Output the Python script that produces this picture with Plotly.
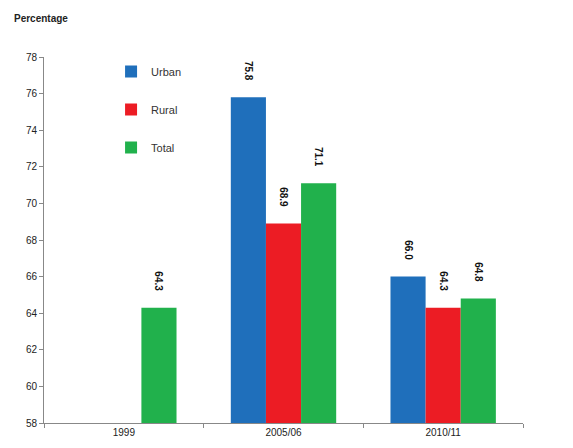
import plotly.graph_objects as go

categories = ["1999", "2005/06", "2010/11"]
urban = [None, 75.8, 66.0]
rural = [None, 68.9, 64.3]
total = [64.3, 71.1, 64.8]
urban_labels = ["", "75.8", "66.0"]
rural_labels = ["", "68.9", "64.3"]
total_labels = ["64.3", "71.1", "64.8"]
y_ticks = [58, 60, 62, 64, 66, 68, 70, 72, 74, 76, 78]

font_family = "Liberation Sans, Arial, sans-serif"
pad = "\u00a0" * 5

fig = go.Figure()
for name, vals, labels, color in [
    ("Urban", urban, urban_labels, "#1f6fbb"),
    ("Rural", rural, rural_labels, "#ec1c24"),
    ("Total", total, total_labels, "#21b14c"),
]:
    fig.add_trace(go.Bar(
        x=categories, y=vals, name=name, legendgroup=name,
        marker=dict(color=color, line=dict(width=0)),
        text=[f"<b>{t}</b>{pad}" if t else "" for t in labels],
        textposition="outside", textangle=90,
        textfont=dict(size=10, color="#111111", family=font_family),
        cliponaxis=False,
    ))

fig.update_layout(
    width=573, height=448,
    margin=dict(l=36, r=58, t=49, b=33),
    paper_bgcolor="white", plot_bgcolor="white",
    barmode="group", bargap=0.34, bargroupgap=0,
    font=dict(family=font_family, size=10, color="#222222"),
    showlegend=True,
    legend=dict(
        x=0.14, y=1.0, xanchor="left", yanchor="top",
        tracegroupgap=19, font=dict(size=11, color="#333333"),
        bgcolor="rgba(0,0,0,0)", itemwidth=30,
    ),
    uniformtext=dict(minsize=10, mode="show"),
)
fig.update_yaxes(
    range=[58, 78], tickvals=y_ticks, showgrid=False,
    showline=True, linecolor="#888888", linewidth=1,
    ticks="outside", ticklen=4, tickcolor="#888888",
    tickfont=dict(size=10, color="#222222"), zeroline=False,
)
fig.update_xaxes(
    showgrid=False, showline=True, linecolor="#888888", linewidth=1,
    ticks="outside", ticklen=4, tickcolor="#888888", tickson="boundaries",
    tickfont=dict(size=10, color="#222222"),
)
fig.add_annotation(
    text="<b>Percentage</b>", xref="paper", yref="paper",
    x=-0.067, y=1.085, xanchor="left", yanchor="bottom",
    showarrow=False, font=dict(size=10, color="#222222"),
)
fig.write_html("out.html")
